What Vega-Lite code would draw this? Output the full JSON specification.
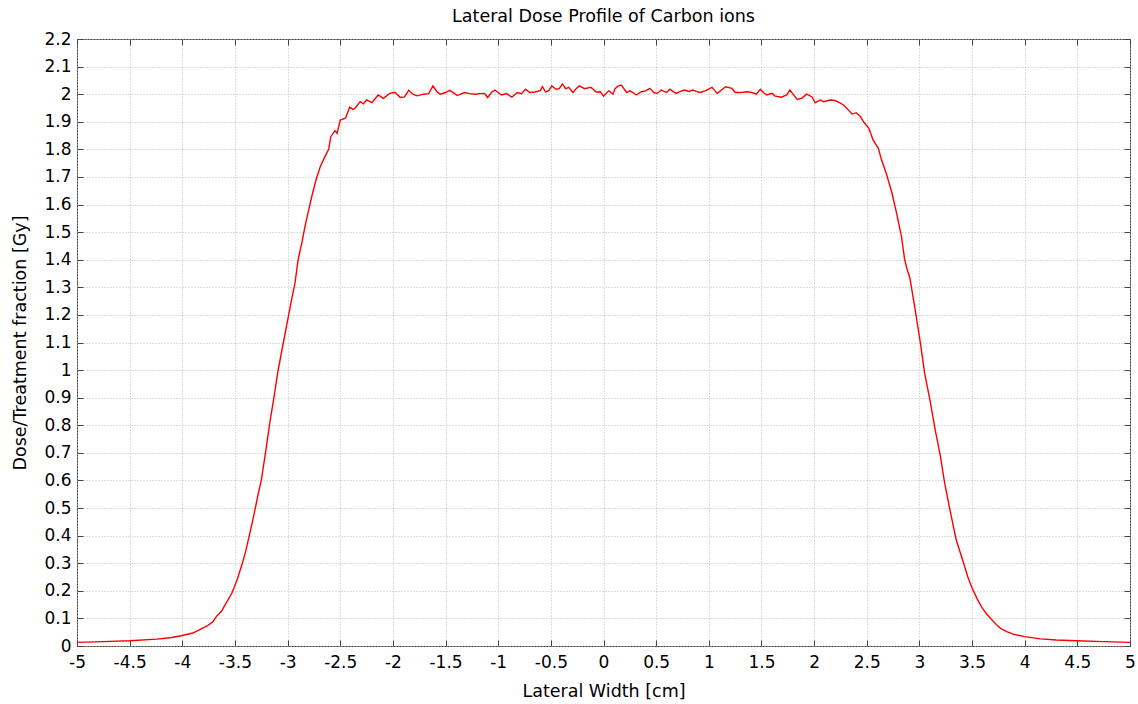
{
  "$schema": "https://vega.github.io/schema/vega-lite/v6.json",
  "width": 1053,
  "height": 607,
  "autosize": {"type": "none"},
  "padding": {"left": 77, "top": 39, "right": 8, "bottom": 58},
  "background": "white",
  "title": {"text": "Lateral Dose Profile of Carbon ions", "font": "DejaVu Sans", "fontSize": 17.5, "fontWeight": "normal", "color": "#000000", "offset": 5, "anchor": "middle"},
  "config": {
    "view": {"stroke": "#444444", "strokeWidth": 1},
    "font": "DejaVu Sans"
  },
  "data": {"values": [
    {"x":-5.0,"y":0.013},{"x":-4.75,"y":0.016},{"x":-4.5,"y":0.019},{"x":-4.24,"y":0.025},{"x":-4.1,"y":0.031},{"x":-4.0,"y":0.038},{"x":-3.9,"y":0.047},{"x":-3.83,"y":0.06},{"x":-3.76,"y":0.074},{"x":-3.71,"y":0.088},{"x":-3.67,"y":0.11},{"x":-3.63,"y":0.125},{"x":-3.58,"y":0.158},{"x":-3.53,"y":0.191},{"x":-3.48,"y":0.239},{"x":-3.43,"y":0.3},{"x":-3.4,"y":0.34},{"x":-3.37,"y":0.39},{"x":-3.34,"y":0.44},{"x":-3.31,"y":0.493},{"x":-3.28,"y":0.55},{"x":-3.25,"y":0.6},{"x":-3.21,"y":0.7},{"x":-3.17,"y":0.807},{"x":-3.13,"y":0.9},{"x":-3.09,"y":1.0},{"x":-3.04,"y":1.1},{"x":-2.99,"y":1.2},{"x":-2.96,"y":1.26},{"x":-2.93,"y":1.315},{"x":-2.9,"y":1.4},{"x":-2.86,"y":1.47},{"x":-2.83,"y":1.53},{"x":-2.8,"y":1.58},{"x":-2.77,"y":1.63},{"x":-2.73,"y":1.69},{"x":-2.69,"y":1.737},{"x":-2.65,"y":1.77},{"x":-2.61,"y":1.8},{"x":-2.59,"y":1.846},{"x":-2.55,"y":1.868},{"x":-2.53,"y":1.858},{"x":-2.5,"y":1.906},{"x":-2.45,"y":1.913},{"x":-2.41,"y":1.953},{"x":-2.38,"y":1.945},{"x":-2.36,"y":1.949},{"x":-2.31,"y":1.973},{"x":-2.28,"y":1.965},{"x":-2.25,"y":1.979},{"x":-2.2,"y":1.969},{"x":-2.14,"y":1.997},{"x":-2.09,"y":1.985},{"x":-2.03,"y":2.003},{"x":-1.98,"y":2.007},{"x":-1.93,"y":1.988},{"x":-1.89,"y":1.99},{"x":-1.85,"y":2.014},{"x":-1.81,"y":2.0},{"x":-1.77,"y":1.994},{"x":-1.71,"y":2.0},{"x":-1.66,"y":2.002},{"x":-1.62,"y":2.03},{"x":-1.58,"y":2.008},{"x":-1.55,"y":2.0},{"x":-1.5,"y":2.006},{"x":-1.46,"y":2.014},{"x":-1.42,"y":2.004},{"x":-1.39,"y":1.995},{"x":-1.32,"y":2.006},{"x":-1.27,"y":2.002},{"x":-1.22,"y":2.0},{"x":-1.17,"y":2.002},{"x":-1.13,"y":2.003},{"x":-1.1,"y":1.988},{"x":-1.06,"y":2.008},{"x":-1.03,"y":2.015},{"x":-0.97,"y":1.997},{"x":-0.92,"y":2.002},{"x":-0.87,"y":1.989},{"x":-0.82,"y":2.006},{"x":-0.78,"y":2.002},{"x":-0.74,"y":2.018},{"x":-0.7,"y":2.006},{"x":-0.65,"y":2.008},{"x":-0.6,"y":2.013},{"x":-0.58,"y":2.027},{"x":-0.55,"y":2.008},{"x":-0.52,"y":2.013},{"x":-0.49,"y":2.03},{"x":-0.45,"y":2.018},{"x":-0.42,"y":2.02},{"x":-0.39,"y":2.037},{"x":-0.36,"y":2.02},{"x":-0.33,"y":2.025},{"x":-0.29,"y":2.006},{"x":-0.26,"y":2.02},{"x":-0.23,"y":2.03},{"x":-0.18,"y":2.02},{"x":-0.12,"y":2.025},{"x":-0.07,"y":2.008},{"x":-0.03,"y":2.009},{"x":0.0,"y":1.993},{"x":0.05,"y":2.013},{"x":0.09,"y":2.0},{"x":0.11,"y":2.02},{"x":0.14,"y":2.03},{"x":0.17,"y":2.033},{"x":0.22,"y":2.006},{"x":0.25,"y":2.012},{"x":0.28,"y":2.006},{"x":0.31,"y":1.997},{"x":0.36,"y":2.009},{"x":0.4,"y":2.012},{"x":0.44,"y":2.021},{"x":0.48,"y":2.005},{"x":0.51,"y":2.003},{"x":0.55,"y":2.015},{"x":0.6,"y":2.006},{"x":0.63,"y":2.018},{"x":0.66,"y":2.01},{"x":0.69,"y":2.003},{"x":0.73,"y":2.01},{"x":0.77,"y":2.015},{"x":0.81,"y":2.01},{"x":0.85,"y":2.015},{"x":0.88,"y":2.01},{"x":0.92,"y":2.006},{"x":0.97,"y":2.013},{"x":1.03,"y":2.025},{"x":1.08,"y":2.003},{"x":1.12,"y":2.015},{"x":1.16,"y":2.027},{"x":1.22,"y":2.021},{"x":1.25,"y":2.006},{"x":1.31,"y":2.006},{"x":1.36,"y":2.009},{"x":1.41,"y":2.006},{"x":1.45,"y":2.0},{"x":1.49,"y":2.018},{"x":1.52,"y":2.005},{"x":1.55,"y":1.997},{"x":1.6,"y":2.003},{"x":1.63,"y":1.993},{"x":1.69,"y":1.989},{"x":1.74,"y":1.997},{"x":1.77,"y":2.015},{"x":1.8,"y":2.0},{"x":1.84,"y":1.981},{"x":1.88,"y":1.985},{"x":1.93,"y":2.0},{"x":1.98,"y":1.99},{"x":2.01,"y":1.969},{"x":2.06,"y":1.979},{"x":2.09,"y":1.973},{"x":2.15,"y":1.979},{"x":2.2,"y":1.977},{"x":2.24,"y":1.969},{"x":2.28,"y":1.961},{"x":2.32,"y":1.945},{"x":2.36,"y":1.928},{"x":2.4,"y":1.933},{"x":2.44,"y":1.919},{"x":2.47,"y":1.9},{"x":2.52,"y":1.876},{"x":2.56,"y":1.834},{"x":2.61,"y":1.804},{"x":2.64,"y":1.762},{"x":2.69,"y":1.707},{"x":2.74,"y":1.641},{"x":2.78,"y":1.574},{"x":2.83,"y":1.484},{"x":2.86,"y":1.4},{"x":2.88,"y":1.37},{"x":2.91,"y":1.333},{"x":2.96,"y":1.218},{"x":3.01,"y":1.097},{"x":3.05,"y":0.988},{"x":3.1,"y":0.892},{"x":3.15,"y":0.783},{"x":3.2,"y":0.686},{"x":3.24,"y":0.59},{"x":3.29,"y":0.493},{"x":3.35,"y":0.384},{"x":3.42,"y":0.3},{"x":3.46,"y":0.25},{"x":3.5,"y":0.21},{"x":3.55,"y":0.17},{"x":3.59,"y":0.142},{"x":3.64,"y":0.115},{"x":3.69,"y":0.094},{"x":3.73,"y":0.078},{"x":3.77,"y":0.064},{"x":3.83,"y":0.052},{"x":3.89,"y":0.043},{"x":4.0,"y":0.034},{"x":4.15,"y":0.026},{"x":4.3,"y":0.022},{"x":4.49,"y":0.019},{"x":4.75,"y":0.016},{"x":5.0,"y":0.013}
  ]},
  "layer": [
    {
      "mark": {"type": "line", "color": "#ff0000", "strokeWidth": 1.4, "interpolate": "linear"},
      "encoding": {
        "x": {"field": "x", "type": "quantitative", "scale": {"domain": [-5, 5], "nice": false, "zero": false},
          "axis": {"orient": "bottom", "title": "Lateral Width [cm]", "values": [-5,-4.5,-4,-3.5,-3,-2.5,-2,-1.5,-1,-0.5,0,0.5,1,1.5,2,2.5,3,3.5,4,4.5,5], "format": "~g",
            "labelExpr": "replace(datum.label, '\u2212', '-')",
            "grid": true, "gridColor": "#bbbbbb", "gridDash": [1, 2], "gridWidth": 1, "domain": false,
            "ticks": true, "tickSize": -6, "tickColor": "#444444", "labelPadding": 14, "labelFontSize": 17, "labelColor": "#000000", "labelFont": "DejaVu Sans",
            "titleFontSize": 17.5, "titleFontWeight": "normal", "titleColor": "#000000", "titleFont": "DejaVu Sans", "titlePadding": 12, "labelFlush": false}},
        "y": {"field": "y", "type": "quantitative", "scale": {"domain": [0, 2.2], "nice": false},
          "axis": {"orient": "left", "title": "Dose/Treatment fraction [Gy]", "values": [0,0.1,0.2,0.3,0.4,0.5,0.6,0.7,0.8,0.9,1,1.1,1.2,1.3,1.4,1.5,1.6,1.7,1.8,1.9,2,2.1,2.2], "format": "~g",
            "grid": true, "gridColor": "#bbbbbb", "gridDash": [1, 2], "gridWidth": 1, "domain": false,
            "ticks": true, "tickSize": -6, "tickColor": "#444444", "labelPadding": 12, "labelFontSize": 17, "labelColor": "#000000", "labelFont": "DejaVu Sans",
            "titleFontSize": 17.5, "titleFontWeight": "normal", "titleColor": "#000000", "titleFont": "DejaVu Sans", "titlePadding": 14, "labelFlush": false}}
      }
    },
    {
      "mark": {"type": "line", "strokeOpacity": 0},
      "encoding": {
        "x": {"field": "x", "type": "quantitative", "scale": {"domain": [-5, 5], "nice": false, "zero": false},
          "axis": {"orient": "top", "title": null, "values": [-5,-4.5,-4,-3.5,-3,-2.5,-2,-1.5,-1,-0.5,0,0.5,1,1.5,2,2.5,3,3.5,4,4.5,5], "labels": false, "grid": false, "domain": false, "tickSize": -6, "tickColor": "#444444"}},
        "y": {"field": "y", "type": "quantitative", "scale": {"domain": [0, 2.2], "nice": false},
          "axis": {"orient": "right", "title": null, "values": [0,0.1,0.2,0.3,0.4,0.5,0.6,0.7,0.8,0.9,1,1.1,1.2,1.3,1.4,1.5,1.6,1.7,1.8,1.9,2,2.1,2.2], "labels": false, "grid": false, "domain": false, "tickSize": -6, "tickColor": "#444444"}}
      }
    }
  ],
  "resolve": {"axis": {"x": "independent", "y": "independent"}}
}
